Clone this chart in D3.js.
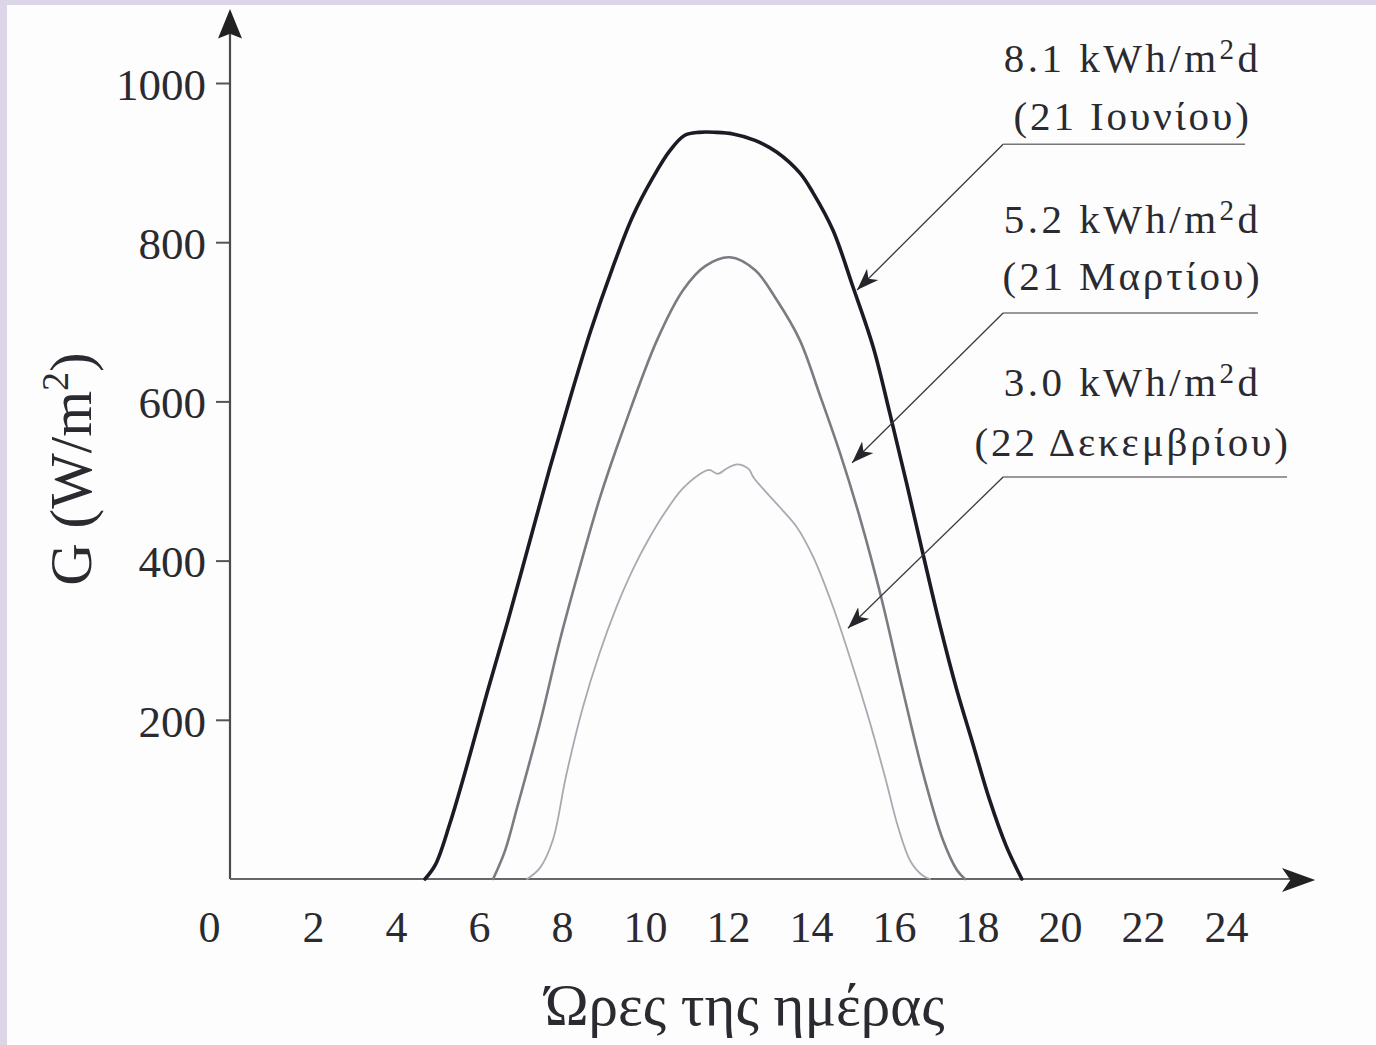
<!DOCTYPE html>
<html>
<head>
<meta charset="utf-8">
<script src="https://cdn.jsdelivr.net/npm/d3@7"></script>
<style>
  html, body { margin: 0; padding: 0; background: #fdfdfd; }
  svg { display: block; }
</style>
</head>
<body>
<svg id="chart" width="1376" height="1045"></svg>
<script>
// ---------------- DATA ----------------
const xTicks = [0, 2, 4, 6, 8, 10, 12, 14, 16, 18, 20, 22, 24];
const yTicks = [200, 400, 600, 800, 1000];

// 21 June
const juneH = [4.70, 4.95, 5.30, 5.75, 6.20, 6.70, 7.20, 7.70, 8.20, 8.70, 9.20, 9.70, 10.20, 10.60, 10.95, 11.30, 11.70, 12.12, 12.65, 13.18, 13.73, 14.05, 14.53, 15.01, 15.50, 15.90, 16.30, 16.70, 17.10, 17.50, 17.90, 18.30, 18.70, 19.08];
const juneG = [0, 18, 70, 150, 235, 325, 420, 515, 605, 690, 765, 832, 882, 915, 934, 938, 938, 936, 928, 913, 887, 862, 815, 744, 668, 585, 498, 408, 320, 240, 170, 100, 42, 0];

// 21 March
const marchH = [6.34, 6.63, 6.92, 7.47, 7.95, 8.43, 8.92, 9.47, 10.29, 10.92, 11.45, 12.05, 12.65, 13.18, 13.73, 14.20, 14.70, 15.20, 15.70, 16.20, 16.70, 17.18, 17.52, 17.71];
const marchG = [0, 36, 90, 196, 300, 392, 480, 564, 677, 740, 770, 781, 765, 727, 677, 610, 535, 450, 352, 240, 133, 49, 11, 0];

// 22 December
const decH = [7.16, 7.47, 7.78, 8.10, 8.50, 8.90, 9.30, 9.70, 10.10, 10.50, 10.90, 11.30, 11.55, 11.75, 11.98, 12.22, 12.50, 12.62, 13.25, 13.66, 14.05, 14.53, 15.00, 15.40, 15.80, 16.10, 16.40, 16.70, 16.87];
const decG = [0, 14, 49, 130, 215, 283, 340, 388, 428, 462, 490, 508, 514, 509, 516, 521, 515, 504, 467, 442, 405, 342, 268, 200, 125, 65, 22, 4, 0];

// labels: energy, date
const energyLabels = ["8.1 kWh/m", "5.2 kWh/m", "3.0 kWh/m"];
const dateLabels = ["(21 Ιουνίου)", "(21 Μαρτίου)", "(22 Δεκεμβρίου)"];
// annotation anchor points (hours, W/m2): arrow tip, elbow, underline end
const tipH = [15.11, 14.99, 14.89];
const tipG = [740, 523, 315];
const elbowH = [18.63, 18.63, 18.63];
const elbowG = [923, 711, 505];
const lineEndH = [24.46, 24.77, 25.47];
const labelH = [21.75, 21.75, 21.75];
const label1G = [1014, 812, 607];
const label2G = [941, 740, 531];

const xTitle = "Ώρες της ημέρας";
const yTitle = "G (W/m";

// ---------------- DRAW ----------------
const svg = d3.select("#chart");
const W = 1376, H = 1045;

svg.append("rect").attr("width", W).attr("height", H).attr("fill", "#fdfdfd");
// lavender frame (left and top)
svg.append("rect").attr("x", 0).attr("y", 0).attr("width", 7).attr("height", H).attr("fill", "#dcd5e8");
svg.append("rect").attr("x", 0).attr("y", 0).attr("width", W).attr("height", 5).attr("fill", "#dcd5e8");

const x = d3.scaleLinear().domain([0, 24]).range([230, 1226]);
const y = d3.scaleLinear().domain([0, 1000]).range([879, 83]);

const font = "'Liberation Serif', 'DejaVu Serif', serif";
const ink = "#2a2a30";

// Y axis
const yAxis = d3.axisLeft(y).tickValues(yTicks).tickSize(14).tickPadding(10).tickFormat(d3.format("d"));
const gy = svg.append("g").attr("transform", `translate(${x(0)},0)`).call(yAxis);
gy.select(".domain").remove();
gy.selectAll(".tick line").attr("stroke", "#555").attr("stroke-width", 2);
gy.selectAll(".tick text").attr("font-family", font).attr("font-size", 45).attr("fill", ink).attr("dy", "0.36em");

// X axis
const xAxis = d3.axisBottom(x).tickValues(xTicks).tickSize(0).tickPadding(32).tickFormat(d3.format("d"));
const gx = svg.append("g").attr("transform", `translate(0,${y(0)})`).call(xAxis);
gx.select(".domain").remove();
gx.selectAll(".tick text").attr("font-family", font).attr("font-size", 44).attr("fill", ink)
  .attr("dx", d => d === 0 ? -21 : 0);

// axis lines with arrows
svg.append("line").attr("x1", x(0)).attr("y1", y(0)).attr("x2", x(0)).attr("y2", y(1070))
  .attr("stroke", "#4a4a50").attr("stroke-width", 2.2);
svg.append("path")
  .attr("d", `M${x(0)},${y(1093)} L${x(0) - 12},${y(1056)} L${x(0)},${y(1062)} L${x(0) + 12},${y(1056)} Z`)
  .attr("fill", "#222");

svg.append("line").attr("x1", x(0)).attr("y1", y(0)).attr("x2", x(25.6)).attr("y2", y(0))
  .attr("stroke", "#66666b").attr("stroke-width", 2.2);
svg.append("path")
  .attr("d", `M${x(26.15)},${y(0) + 1} L${x(25.35)},${y(0) - 11} L${x(25.55)},${y(0) + 1} L${x(25.35)},${y(0) + 13} Z`)
  .attr("fill", "#222");

// curves
const line = d3.line().x(d => x(d[0])).y(d => y(d[1])).curve(d3.curveCatmullRom.alpha(0.5));
const series = [
  { h: decH, g: decG, color: "#a9a9b2", width: 1.8 },
  { h: marchH, g: marchG, color: "#7b7b82", width: 2.6 },
  { h: juneH, g: juneG, color: "#1b1b26", width: 3.6 }
];
series.forEach(s => {
  svg.append("path")
    .datum(s.h.map((h, i) => [h, s.g[i]]))
    .attr("d", line)
    .attr("fill", "none")
    .attr("stroke", s.color)
    .attr("stroke-width", s.width)
    .attr("stroke-linejoin", "round")
    .attr("stroke-linecap", "round");
});

// annotations
const defs = svg.append("defs");
defs.append("marker").attr("id", "ah").attr("viewBox", "-22 -9 24 18")
  .attr("refX", 0).attr("refY", 0).attr("markerWidth", 24).attr("markerHeight", 18)
  .attr("markerUnits", "userSpaceOnUse").attr("orient", "auto")
  .append("path").attr("d", "M0,0 L-22,-8 L-16,0 L-22,8 Z").attr("fill", "#25252c");

energyLabels.forEach((lab, i) => {
  // underline
  svg.append("line")
    .attr("x1", x(elbowH[i])).attr("y1", y(elbowG[i]))
    .attr("x2", x(lineEndH[i])).attr("y2", y(elbowG[i]))
    .attr("stroke", "#77777d").attr("stroke-width", 1.6);
  // arrow
  svg.append("line")
    .attr("x1", x(elbowH[i])).attr("y1", y(elbowG[i]))
    .attr("x2", x(tipH[i])).attr("y2", y(tipG[i]))
    .attr("stroke", "#3a3a40").attr("stroke-width", 1.3)
    .attr("marker-end", "url(#ah)");
  // text line 1
  const t1 = svg.append("text")
    .attr("x", x(labelH[i])).attr("y", y(label1G[i]))
    .attr("text-anchor", "middle").attr("font-family", font).attr("font-size", 41)
    .attr("letter-spacing", 3.5).attr("fill", ink);
  t1.append("tspan").text(lab);
  t1.append("tspan").attr("font-size", 29).attr("dy", -13).text("2");
  t1.append("tspan").attr("dy", 13).text("d");
  // text line 2
  svg.append("text")
    .attr("x", x(labelH[i])).attr("y", y(label2G[i]))
    .attr("text-anchor", "middle").attr("font-family", font).attr("font-size", 41)
    .attr("letter-spacing", 2.9).attr("fill", ink)
    .text(dateLabels[i]);
});

// axis titles
svg.append("text")
  .attr("x", x(12.4)).attr("y", 1025)
  .attr("text-anchor", "middle").attr("font-family", font).attr("font-size", 59).attr("fill", ink)
  .text(xTitle);

const yt = svg.append("text")
  .attr("transform", `translate(91,${y(515)}) rotate(-90)`)
  .attr("text-anchor", "middle").attr("font-family", font).attr("font-size", 59).attr("fill", ink);
yt.append("tspan").text(yTitle);
yt.append("tspan").attr("font-size", 38).attr("dy", -23).text("2");
yt.append("tspan").attr("dy", 23).text(")");
</script>
</body>
</html>
